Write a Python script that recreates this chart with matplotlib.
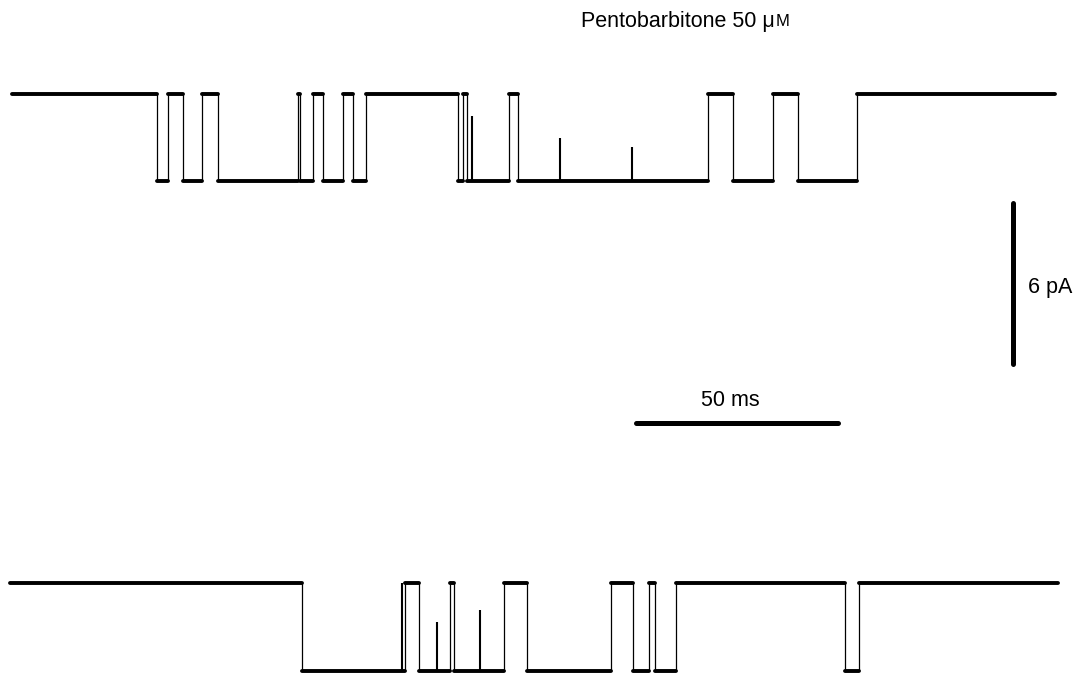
"""Single-channel currents with pentobarbitone: idealised open/shut record."""
import matplotlib.pyplot as plt
import numpy as np

plt.rcParams["font.family"] = ["Liberation Sans", "DejaVu Sans"]

# Transition times (ms from start of each sweep); state toggles shut <-> open,
# each sweep starts shut. Openings give an inward (downward) current.
TOP_TRANSITIONS = [35.9, 38.6, 42.3, 47.0, 51.1, 70.7, 71.2, 74.4, 76.9, 81.9,
                   84.3, 87.6, 110.4, 111.6, 112.6, 123.0, 125.2, 172.3, 178.5,
                   188.4, 194.6, 209.2]
TOP_END = 258.2
# brief, unresolved closings during an opening: (time ms, fraction of full amplitude)
TOP_SPIKES = [(113.9, 0.75), (135.6, 0.5), (153.5, 0.4)]

BOTTOM_TRANSITIONS = [72.3, 97.8, 101.2, 108.9, 109.9, 122.3, 128.0, 148.8,
                      154.2, 158.2, 159.7, 164.9, 206.7, 210.1]
BOTTOM_END = 259.4
BOTTOM_SPIKES = [(97.0, 1.0), (105.7, 0.56), (116.3, 0.7)]

AMPLITUDE = 3.25  # pA, single-channel current
SCALE_TIME = 50   # ms
SCALE_CURRENT = 6  # pA


def draw_sweep(ax, transitions, end, spikes, x0, baseline):
    """Draw one sweep: thick dwell segments, thin fast transitions."""
    edges = np.concatenate([[0.0], transitions, [end]])
    states = np.arange(len(edges) - 1) % 2
    levels = baseline - AMPLITUDE * states
    ax.hlines(levels, x0 + edges[:-1], x0 + edges[1:], color="black",
              lw=2.8, capstyle="round")
    ax.vlines(x0 + np.asarray(transitions), baseline - AMPLITUDE, baseline,
              color="black", lw=0.9)
    for t, frac in spikes:
        ax.vlines(x0 + t, baseline - AMPLITUDE,
                  baseline - AMPLITUDE + frac * AMPLITUDE, color="black", lw=1.5)


fig = plt.figure(figsize=(10.75, 6.84), dpi=100)
ax = fig.add_axes([0, 0, 1, 1])
ax.set_xlim(0, 266.1)
ax.set_ylim(0, 25.52)
ax.axis("off")

draw_sweep(ax, TOP_TRANSITIONS, TOP_END, TOP_SPIKES, x0=2.97, baseline=22.0)
draw_sweep(ax, BOTTOM_TRANSITIONS, BOTTOM_END, BOTTOM_SPIKES, x0=2.48, baseline=3.75)

# calibration bars
ax.plot([157.4, 157.4 + SCALE_TIME], [9.74, 9.74], color="black", lw=3.6,
        solid_capstyle="round")
ax.plot([250.7, 250.7], [11.94, 11.94 + SCALE_CURRENT], color="black", lw=3.6,
        solid_capstyle="round")
ax.text(180.7, 10.2, f"{SCALE_TIME} ms", ha="center", va="bottom", fontsize=15.5)
ax.text(254.4, 14.8, f"{SCALE_CURRENT} pA", ha="left", va="center", fontsize=15.5)

ax.text(191.9, 24.7, "Pentobarbitone 50 μ", ha="right", va="center", fontsize=15.5)
ax.text(192.1, 24.7, "M", ha="left", va="center", fontsize=12)

fig.savefig("out.png", dpi=100)
